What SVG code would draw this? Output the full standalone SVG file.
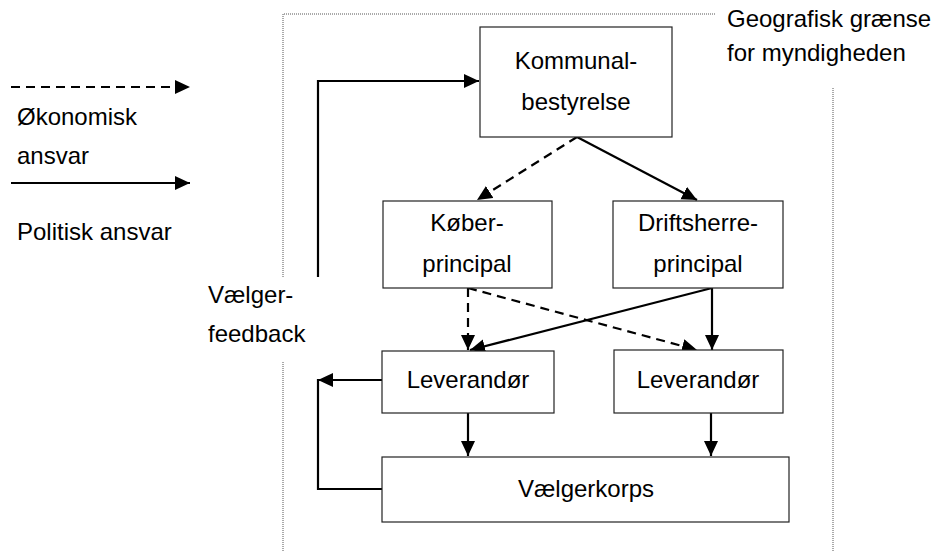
<svg xmlns="http://www.w3.org/2000/svg" width="946" height="551" viewBox="0 0 946 551">
<style>
text{font-family:"Liberation Sans",Arial,sans-serif;font-size:24px;fill:#000}
.c{text-anchor:middle}
.box{fill:#fff;stroke:#222;stroke-width:1.2}
.sol{fill:none;stroke:#000;stroke-width:2.2}
.dash{fill:none;stroke:#000;stroke-width:2.2;stroke-dasharray:9 6}
.dot{fill:none;stroke:#555;stroke-width:1;stroke-dasharray:1 1}
</style>
<defs>
<marker id="ah" markerUnits="userSpaceOnUse" markerWidth="16" markerHeight="15" refX="15" refY="7" orient="auto">
<path d="M0,0 L15,7 L0,14 z" fill="#000"/>
</marker>
</defs>
<g id="boundary">
<path class="dot" d="M283,277 V14 H715"/>
<path class="dot" d="M283,362 V551"/>
<path class="dot" d="M833,88 V551"/>
<text x="727" y="27">Geografisk grænse</text>
<text x="727" y="61">for myndigheden</text>
</g>
<g id="legend">
<path class="dash" d="M11,87 H190" marker-end="url(#ah)"/>
<text x="17" y="125">Økonomisk</text>
<text x="17" y="164">ansvar</text>
<path class="sol" d="M11,183 H190" marker-end="url(#ah)"/>
<text x="17" y="240">Politisk ansvar</text>
</g>
<g id="connectors">
<path class="sol" d="M318,277 V81 H479" marker-end="url(#ah)"/>
<path class="dash" d="M577,137 L477,200" marker-end="url(#ah)"/>
<path class="sol" d="M577,137 L697,200" marker-end="url(#ah)"/>
<path class="dash" d="M468,288 V350" marker-end="url(#ah)"/>
<path class="dash" d="M468,288 L697,350" marker-end="url(#ah)"/>
<path class="sol" d="M712,288 L470,350" marker-end="url(#ah)"/>
<path class="sol" d="M712,288 V350" marker-end="url(#ah)"/>
<path class="sol" d="M468,413 V456" marker-end="url(#ah)"/>
<path class="sol" d="M711,413 V456" marker-end="url(#ah)"/>
<path class="sol" d="M382,380 H318" marker-end="url(#ah)"/>
<path class="sol" d="M382,489 H318 V379"/>
</g>
<g id="feedback-label">
<text x="208" y="303">Vælger-</text>
<text x="208" y="342">feedback</text>
</g>
<g id="kommunalbestyrelse">
<rect class="box" x="480" y="27" width="192" height="110"/>
<text class="c" x="576" y="69">Kommunal-</text>
<text class="c" x="576" y="110">bestyrelse</text>
</g>
<g id="koeberprincipal">
<rect class="box" x="383" y="201" width="169" height="87"/>
<text class="c" x="467" y="231">Køber-</text>
<text class="c" x="467" y="272">principal</text>
</g>
<g id="driftsherreprincipal">
<rect class="box" x="613" y="201" width="170" height="87"/>
<text class="c" x="698" y="231">Driftsherre-</text>
<text class="c" x="698" y="272">principal</text>
</g>
<g id="leverandoer1">
<rect class="box" x="382" y="351" width="172" height="62"/>
<text class="c" x="468" y="388">Leverandør</text>
</g>
<g id="leverandoer2">
<rect class="box" x="614" y="350" width="169" height="63"/>
<text class="c" x="698" y="388">Leverandør</text>
</g>
<g id="vaelgerkorps">
<rect class="box" x="382" y="457" width="407" height="65"/>
<text class="c" x="586" y="497">Vælgerkorps</text>
</g>
</svg>
